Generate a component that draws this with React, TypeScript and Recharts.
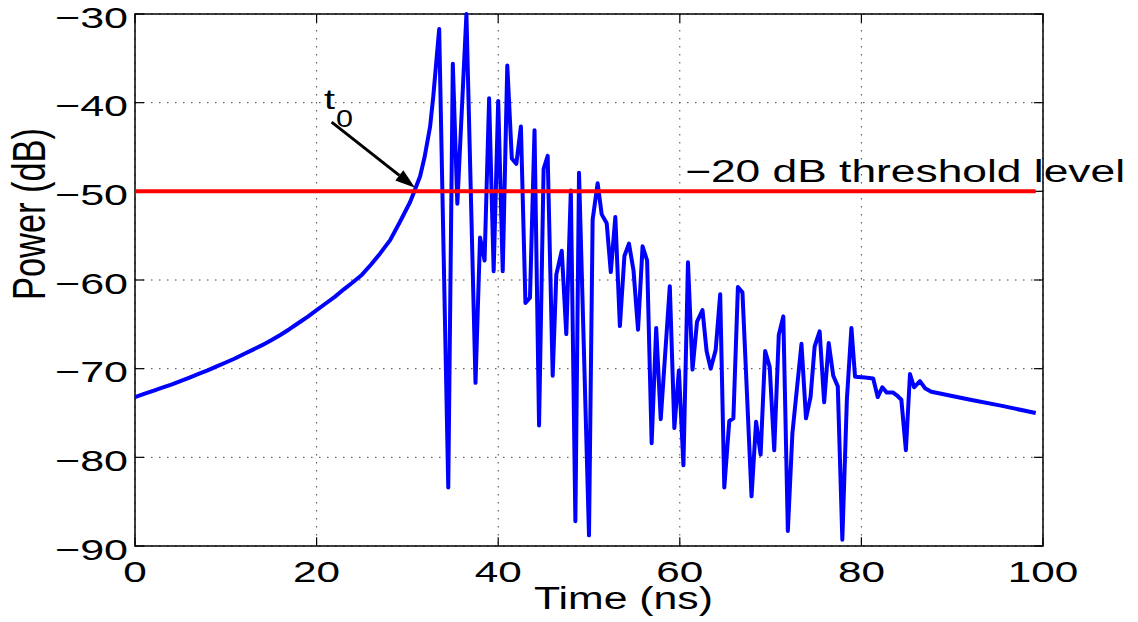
import { LineChart, Line, XAxis, YAxis, CartesianGrid, ReferenceLine, ReferenceArea } from 'recharts';

// time (ns) and received power (dB)
const times = [
  0, 1, 2, 3, 4, 5, 6, 7, 8, 9, 10, 11, 12, 13, 14, 15, 16, 17, 18, 19, 20, 21, 22, 23, 24, 25, 26, 27, 28.1, 29.2,
  30.3, 30.8, 31.4, 31.9, 32.5, 32.85, 33.2, 33.5,
  34.5, 35.0, 35.5, 36.5, 37.5, 38.0, 38.5, 39.0, 39.5, 40.0, 40.5, 41.0, 41.5, 42.0, 42.5, 43.0, 43.5, 44.0, 44.5,
  45.0, 45.45, 46.0, 46.4, 47.0, 47.5, 48.0, 48.5, 48.9, 50.0, 50.4, 50.95, 51.4, 51.95, 52.4, 52.9, 53.4, 53.9,
  54.4, 54.9, 55.4, 55.9, 56.4, 56.9, 57.4, 57.9, 58.9, 59.4, 59.9, 60.4, 60.9, 61.4, 61.9, 62.5, 62.95, 63.4,
  63.95, 64.45, 64.9, 65.45, 65.9, 66.4, 66.9, 67.9, 68.4, 68.9, 69.4, 69.9, 70.4, 70.9, 71.4, 71.9, 72.4, 73.4,
  73.9, 74.4, 74.85, 75.4, 75.9, 76.4, 76.9, 77.4, 77.9, 78.4, 78.9, 79.3, 80.4, 81.3, 81.8, 82.3, 82.8, 83.5,
  83.9, 84.4, 84.9, 85.35, 85.8, 86.45, 87.0, 87.7, 88.65, 92, 95.5, 99.2,
];
const power = [
  -73.2, -72.85, -72.5, -72.15, -71.8, -71.4, -71.0, -70.6, -70.2, -69.75, -69.3, -68.85, -68.35, -67.85, -67.35,
  -66.8, -66.2, -65.55, -64.85, -64.15, -63.4, -62.65, -61.9, -61.05, -60.25, -59.4, -58.25, -57.0, -55.5, -53.4,
  -51.2, -49.9, -48.3, -46.1, -42.7, -39.3, -35.2, -31.7,
  -83.4, -35.6, -51.4, -30.0, -71.6, -55.2, -57.8, -39.5, -59.0, -39.8, -59.0, -35.8, -46.3, -46.9, -42.7, -62.6, -62.0, -43.1, -76.4,
  -47.5, -46.0, -70.8, -59.4, -56.7, -66.1, -49.9, -87.2, -47.9, -88.8, -53.2, -49.1, -52.6, -53.6, -59.1, -52.9, -65.2, -57.3,
  -55.9, -58.9, -65.6, -56.2, -57.8, -78.4, -65.4, -75.7, -60.7, -76.7, -70.2, -80.9, -58.0, -70.1, -64.7, -63.4, -68.0, -70.0,
  -67.9, -61.6, -83.4, -75.9, -75.6, -60.8, -61.4, -84.4, -76.0, -79.7, -68.0, -69.8, -79.2, -66.2, -64.1, -88.3, -77.3, -67.2,
  -75.6, -73.2, -67.5, -65.8, -73.8, -67.1, -70.8, -72.0, -89.3, -73.5, -65.4, -70.9, -71.0, -71.1, -73.2, -72.1, -72.7, -72.7,
  -73.0, -73.5, -79.2, -70.6, -72.1, -71.4, -72.2, -72.6, -72.8, -73.5, -74.2, -75.0,
];

const xTicks = [0, 20, 40, 60, 80, 100];
const yTicks = [-90, -80, -70, -60, -50, -40, -30];
const threshold = -50;
// arrow pointing at t0 (start near the label, tip on the threshold crossing)
const arrowFrom = { x: 21.66, y: -42.2 };
const arrowTo = { x: 30.84, y: -49.6 };

const data = times.map((t, i) => ({ t, p: power[i] }));
const tEnd = times[times.length - 1];

const W = 1138;
const H = 622;
const FONT = '"Liberation Sans", Arial, Helvetica, sans-serif';
const PLOT_BOTTOM = 546;

function XTick({ x, payload }: any) {
  const len = String(payload.value).length * 23.5;
  return (
    <text x={x - len / 2} y={PLOT_BOTTOM + 36} fontSize={30} fontFamily={FONT} fill="#000"
      textLength={len} lengthAdjust="spacingAndGlyphs">
      {payload.value}
    </text>
  );
}

function YTick({ y, payload }: any) {
  const label = String(payload.value).replace('-', '\u2212');
  const len = 73;
  return (
    <text x={128 - len} y={y + 13.5} fontSize={30} fontFamily={FONT} fill="#000"
      textLength={len} lengthAdjust="spacingAndGlyphs">
      {label}
    </text>
  );
}

function Arrow(props: any) {
  const { x1, y1, x2, y2 } = props;
  const dx = x2 - x1;
  const dy = y2 - y1;
  const d = Math.sqrt(dx * dx + dy * dy) || 1;
  const ux = dx / d;
  const uy = dy / d;
  const hl = 20;
  const hw = 6.5;
  const bx = x2 - ux * hl;
  const by = y2 - uy * hl;
  return (
    <g>
      <line x1={x1} y1={y1} x2={bx} y2={by} stroke="#000" strokeWidth={3} />
      <polygon
        points={`${x2},${y2} ${bx - uy * hw},${by + ux * hw} ${bx + uy * hw},${by - ux * hw}`}
        fill="#000"
      />
    </g>
  );
}

export default function App() {
  return (
    <div style={{ position: 'absolute', left: 0, top: 0, width: W, height: H, background: '#fff' }}>
      <LineChart width={W} height={H} data={data} margin={{ top: 14, right: 95, left: 0, bottom: 0 }}>
        <CartesianGrid stroke="#444" strokeDasharray="1.5 6.5" strokeWidth={1} />
        <XAxis dataKey="t" type="number" domain={[0, 100]} ticks={xTicks} height={76}
          axisLine={false} tickLine={false} tick={<XTick />} interval={0} />
        <YAxis type="number" domain={[-90, -30]} ticks={yTicks} width={135}
          axisLine={false} tickLine={false} tick={<YTick />} interval={0} />
        <ReferenceArea x1={0} x2={100} y1={-90} y2={-30} fill="none" stroke="#000" strokeWidth={1.5} fillOpacity={0} />
        {xTicks.map((v) => (
          <ReferenceLine key={`xb${v}`} segment={[{ x: v, y: -90 }, { x: v, y: -89 }]} stroke="#000" strokeWidth={1.2} />
        ))}
        {xTicks.map((v) => (
          <ReferenceLine key={`xt${v}`} segment={[{ x: v, y: -30 }, { x: v, y: -31 }]} stroke="#000" strokeWidth={1.2} />
        ))}
        {yTicks.map((v) => (
          <ReferenceLine key={`yl${v}`} segment={[{ x: 0, y: v }, { x: 1, y: v }]} stroke="#000" strokeWidth={1.2} />
        ))}
        {yTicks.map((v) => (
          <ReferenceLine key={`yr${v}`} segment={[{ x: 100, y: v }, { x: 99, y: v }]} stroke="#000" strokeWidth={1.2} />
        ))}
        <Line type="linear" dataKey="p" stroke="#0000ff" strokeWidth={4} dot={false}
          isAnimationActive={false} strokeLinejoin="round" />
        <ReferenceLine segment={[{ x: 0, y: threshold }, { x: tEnd, y: threshold }]} stroke="#ff0000" strokeWidth={4} />
        <ReferenceLine segment={[arrowFrom, arrowTo]} shape={(p: any) => <Arrow {...p} />} />
      </LineChart>
      <svg width={W} height={H} style={{ position: 'absolute', left: 0, top: 0, pointerEvents: 'none' }}>
        <text x={534} y={609} fontSize={31} fontFamily={FONT} fill="#000" textLength={179} lengthAdjust="spacingAndGlyphs">
          Time (ns)
        </text>
        <text transform="translate(45,214) rotate(-90)" x={-86} y={0} fontSize={46} fontFamily={FONT} fill="#000"
          textLength={172} lengthAdjust="spacingAndGlyphs">
          Power (dB)
        </text>
        <text x={324} y={109} fontSize={28} fontFamily={FONT} fill="#000" textLength={11} lengthAdjust="spacingAndGlyphs">
          t
        </text>
        <text x={336} y={127} fontSize={24} fontFamily={FONT} fill="#000" textLength={17} lengthAdjust="spacingAndGlyphs">
          0
        </text>
        <text x={685} y={182} fontSize={31} fontFamily={FONT} fill="#000" textLength={440} lengthAdjust="spacingAndGlyphs">
          {'\u221220 dB threshold level'}
        </text>
      </svg>
    </div>
  );
}
